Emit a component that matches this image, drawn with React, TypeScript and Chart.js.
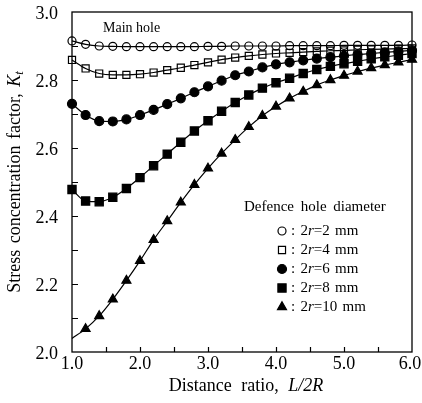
import React, { useEffect, useRef } from 'react';
import { Chart, registerables } from 'chart.js';

Chart.register(...registerables);

// Distance ratio L/2R
const xValues = [1.0, 1.2, 1.4, 1.6, 1.8, 2.0, 2.2, 2.4, 2.6, 2.8, 3.0, 3.2, 3.4, 3.6, 3.8, 4.0, 4.2, 4.4, 4.6, 4.8, 5.0, 5.2, 5.4, 5.6, 5.8, 6.0];

// Stress concentration factor Kt, per defence hole diameter
const kt2mm = [2.915, 2.905, 2.900, 2.899, 2.898, 2.898, 2.898, 2.898, 2.898, 2.898, 2.899, 2.899, 2.900, 2.900, 2.900, 2.900, 2.901, 2.901, 2.901, 2.901, 2.902, 2.902, 2.902, 2.902, 2.902, 2.903];
const kt4mm = [2.859, 2.834, 2.819, 2.815, 2.815, 2.817, 2.822, 2.829, 2.836, 2.844, 2.852, 2.860, 2.866, 2.871, 2.875, 2.878, 2.880, 2.882, 2.884, 2.886, 2.887, 2.889, 2.890, 2.891, 2.892, 2.893];
const kt6mm = [2.730, 2.697, 2.679, 2.678, 2.684, 2.697, 2.712, 2.729, 2.746, 2.764, 2.781, 2.798, 2.814, 2.825, 2.837, 2.846, 2.852, 2.858, 2.863, 2.867, 2.871, 2.875, 2.878, 2.881, 2.884, 2.887];
const kt8mm = [2.478, 2.444, 2.442, 2.455, 2.481, 2.513, 2.548, 2.582, 2.617, 2.650, 2.680, 2.708, 2.734, 2.756, 2.776, 2.792, 2.805, 2.819, 2.831, 2.840, 2.848, 2.855, 2.862, 2.868, 2.873, 2.878];
const kt10mm = [2.040, 2.068, 2.106, 2.155, 2.210, 2.268, 2.330, 2.385, 2.440, 2.492, 2.540, 2.584, 2.624, 2.662, 2.695, 2.722, 2.746, 2.766, 2.785, 2.800, 2.813, 2.825, 2.835, 2.844, 2.852, 2.860];

const diameterLabels = ['2', '4', '6', '8', '10'];

const xTickValues = [1, 2, 3, 4, 5, 6];
const xTickLabels = ['1.0', '2.0', '3.0', '4.0', '5.0', '6.0'];
const xTickMarks = [1.5, 2, 2.5, 3, 3.5, 4, 4.5, 5, 5.5];
const yTickValues = [2.0, 2.2, 2.4, 2.6, 2.8, 3.0];
const yTickLabels = ['2.0', '2.2', '2.4', '2.6', '2.8', '3.0'];
const yTickMarks = [2.1, 2.2, 2.3, 2.4, 2.5, 2.6, 2.7, 2.8, 2.9];

const FONT = '"Liberation Serif", "Times New Roman", serif';

type Part = { t: string; i?: boolean; sub?: boolean };

function drawRich(ctx: CanvasRenderingContext2D, parts: Part[], x: number, y: number, size: number, align: 'left' | 'center' = 'left', wordGap = 0) {
  const fontFor = (p: Part) => `${p.i ? 'italic ' : ''}${p.sub ? size * 0.7 : size}px ${FONT}`;
  const widthOf = (p: Part) => {
    ctx.font = fontFor(p);
    const spaces = (p.t.match(/ /g) || []).length;
    return ctx.measureText(p.t).width + spaces * wordGap;
  };
  const total = parts.reduce((s, p) => s + widthOf(p), 0);
  let cx = align === 'center' ? x - total / 2 : x;
  ctx.textBaseline = 'middle';
  ctx.textAlign = 'left';
  for (const p of parts) {
    ctx.font = fontFor(p);
    const words = p.t.split(' ');
    words.forEach((w, idx) => {
      ctx.fillText(w, cx, p.sub ? y + size * 0.25 : y);
      cx += ctx.measureText(w).width;
      if (idx < words.length - 1) cx += ctx.measureText(' ').width + wordGap;
    });
  }
}

function drawMarker(ctx: CanvasRenderingContext2D, style: string, filled: boolean, x: number, y: number, r: number) {
  ctx.beginPath();
  if (style === 'circle') {
    ctx.arc(x, y, r, 0, Math.PI * 2);
  } else if (style === 'rect') {
    const s = r * Math.SQRT1_2;
    ctx.rect(x - s, y - s, 2 * s, 2 * s);
  } else {
    for (let k = 0; k < 3; k++) {
      const a = (k * 2 * Math.PI) / 3;
      const px = x + Math.sin(a) * r;
      const py = y - Math.cos(a) * r;
      if (k === 0) ctx.moveTo(px, py);
      else ctx.lineTo(px, py);
    }
    ctx.closePath();
  }
  if (filled) {
    ctx.fillStyle = '#000';
    ctx.fill();
  }
  ctx.strokeStyle = '#000';
  ctx.lineWidth = 1.2;
  ctx.stroke();
}

const seriesStyles = [
  { data: kt2mm, style: 'circle', filled: false, r: 4 },
  { data: kt4mm, style: 'rect', filled: false, r: 5 },
  { data: kt6mm, style: 'circle', filled: true, r: 4.5 },
  { data: kt8mm, style: 'rect', filled: true, r: 5.8 },
  { data: kt10mm, style: 'triangle', filled: true, r: 5.2 },
];

const decorPlugin = {
  id: 'decor',
  afterDraw(chart: any) {
    const { ctx, chartArea: a, scales } = chart;
    const xs = scales.x;
    const ys = scales.y;
    ctx.save();
    ctx.strokeStyle = '#000';
    ctx.lineWidth = 1.3;
    ctx.strokeRect(a.left, a.top, a.right - a.left, a.bottom - a.top);
    ctx.lineWidth = 1.2;
    ctx.beginPath();
    for (const v of xTickMarks) {
      const px = Math.round(xs.getPixelForValue(v)) + 0.5;
      ctx.moveTo(px, a.bottom);
      ctx.lineTo(px, a.bottom - 5);
    }
    for (const v of yTickMarks) {
      const py = Math.round(ys.getPixelForValue(v)) + 0.5;
      ctx.moveTo(a.left, py);
      ctx.lineTo(a.left + 6, py);
    }
    ctx.stroke();

    ctx.fillStyle = '#000';
    ctx.textBaseline = 'middle';
    ctx.font = `18px ${FONT}`;
    ctx.textAlign = 'center';
    xTickValues.forEach((v, i) => {
      const px = i === xTickValues.length - 1 ? xs.getPixelForValue(v) - 2 : xs.getPixelForValue(v);
      ctx.fillText(xTickLabels[i], px, a.bottom + 12);
    });
    ctx.textAlign = 'right';
    yTickValues.forEach((v, i) => {
      ctx.fillText(yTickLabels[i], a.left - 14, ys.getPixelForValue(v) + 2);
    });

    // x title
    drawRich(ctx, [{ t: 'Distance ratio, ' }, { t: 'L/2R', i: true }], (a.left + a.right) / 2 + 4, a.bottom + 34, 18, 'center', 5);

    // y title
    ctx.save();
    ctx.translate(15, (a.top + a.bottom) / 2);
    ctx.rotate(-Math.PI / 2);
    drawRich(ctx, [{ t: 'Stress concentration factor, ' }, { t: 'K', i: true }, { t: 't', i: true, sub: true }], 0, 0, 18, 'center', 2);
    ctx.restore();

    // Main hole
    drawRich(ctx, [{ t: 'Main hole' }], a.left + 31, a.top + 16, 14, 'left');

    // legend
    drawRich(ctx, [{ t: 'Defence hole diameter' }], 244, 207, 15, 'left', 3);
    seriesStyles.forEach((s, i) => {
      const y = 231 + i * 19;
      drawMarker(ctx, s.style, s.filled, 282, y, s.r);
      drawRich(ctx, [{ t: ': 2' }, { t: 'r', i: true }, { t: `=${diameterLabels[i]} mm` }], 291, y, 15, 'left', 1.5);
    });
    ctx.restore();
  },
};

export default function App() {
  const ref = useRef<HTMLCanvasElement | null>(null);
  useEffect(() => {
    if (!ref.current) return;
    const datasets = seriesStyles.map((s, i) => ({
      label: `2r=${diameterLabels[i]} mm`,
      data: xValues.map((x, j) => ({ x, y: s.data[j] })),
      borderColor: '#000',
      borderWidth: 1.2,
      tension: 0.4,
      cubicInterpolationMode: 'monotone' as const,
      pointStyle: s.style,
      pointRadius: xValues.map((_, j) => (i === 4 && j === 0 ? 0 : s.r)),
      pointBackgroundColor: s.filled ? '#000' : 'rgba(0,0,0,0)',
      pointBorderColor: '#000',
      pointBorderWidth: 1.2,
      clip: false as const,
    }));
    const chart = new Chart(ref.current, {
      type: 'line',
      data: { datasets },
      options: {
        animation: false,
        responsive: false,
        devicePixelRatio: 1,
        layout: { padding: { left: 72, top: 12, right: 10, bottom: 51 } },
        scales: {
          x: { type: 'linear', min: 1, max: 6, display: false },
          y: { type: 'linear', min: 2, max: 3, display: false },
        },
        plugins: { legend: { display: false }, tooltip: { enabled: false } },
      },
      plugins: [decorPlugin],
    });
    return () => chart.destroy();
  }, []);
  return (
    <div style={{ position: 'fixed', left: 0, top: 0, width: 422, height: 403, background: '#fff' }}>
      <canvas ref={ref} width={422} height={403} />
    </div>
  );
}
